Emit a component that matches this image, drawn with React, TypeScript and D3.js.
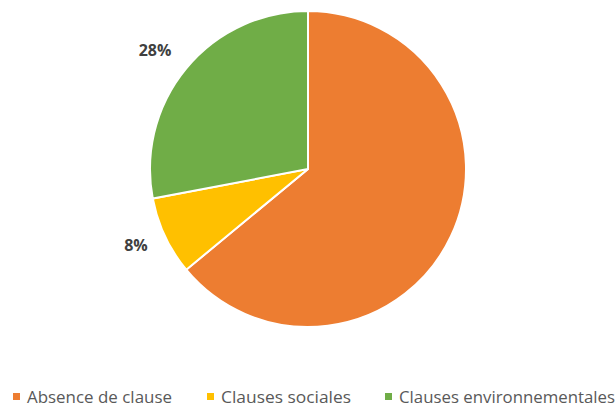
import React from "react";
import * as d3 from "d3";

const categories = ["Absence de clause", "Clauses sociales", "Clauses environnementales"];
const values = [64, 8, 28];
const labels = ["", "8%", "28%"];
const colors = ["#ED7D31", "#FFC000", "#70AD47"];

export default function App() {
  const W = 615, H = 406;
  const cx = 308, cy = 169, r = 158;
  const pie = d3.pie<number>().sort(null).value((d) => d)(values);
  const arc = d3.arc<d3.PieArcDatum<number>>().innerRadius(0).outerRadius(r);
  const labelArc = d3.arc<d3.PieArcDatum<number>>().innerRadius(r + 30).outerRadius(r + 30);
  const legendX = [13, 207, 385];
  const labelPos: Record<number, [number, number]> = { 1: [136, 245], 2: [155, 50] };
  return (
    <svg width={W} height={H} style={{ position: "absolute", left: 0, top: 0, background: "#fff" }}>
      <g transform={`translate(${cx},${cy})`}>
        {pie.map((p, i) => (
          <path key={i} d={arc(p) || ""} fill={colors[i]} stroke="#fff" strokeWidth={2} />
        ))}
      </g>
      {pie.map((p, i) => {
        if (!labels[i]) return null;
        const pos = labelPos[i] || (() => { const c = labelArc.centroid(p); return [c[0] + cx, c[1] + cy]; })();
        return (
          <text key={i} x={pos[0]} y={pos[1]} textAnchor="middle" dominantBaseline="central"
            fontFamily="'Open Sans', sans-serif" fontWeight="bold" fontSize={16} fill="#404040">
            {labels[i]}
          </text>
        );
      })}
      {categories.map((c, i) => (
        <g key={c}>
          <rect x={legendX[i]} y={393} width={7} height={7} fill={colors[i]} />
          <text x={legendX[i] + 14} y={396} dominantBaseline="central"
            fontFamily="'Open Sans', sans-serif" fontSize={16.6} fill="#595959"
            textLength={i === 0 ? 145 : i === 1 ? 130 : 216} lengthAdjust="spacingAndGlyphs">{c}</text>
        </g>
      ))}
    </svg>
  );
}
